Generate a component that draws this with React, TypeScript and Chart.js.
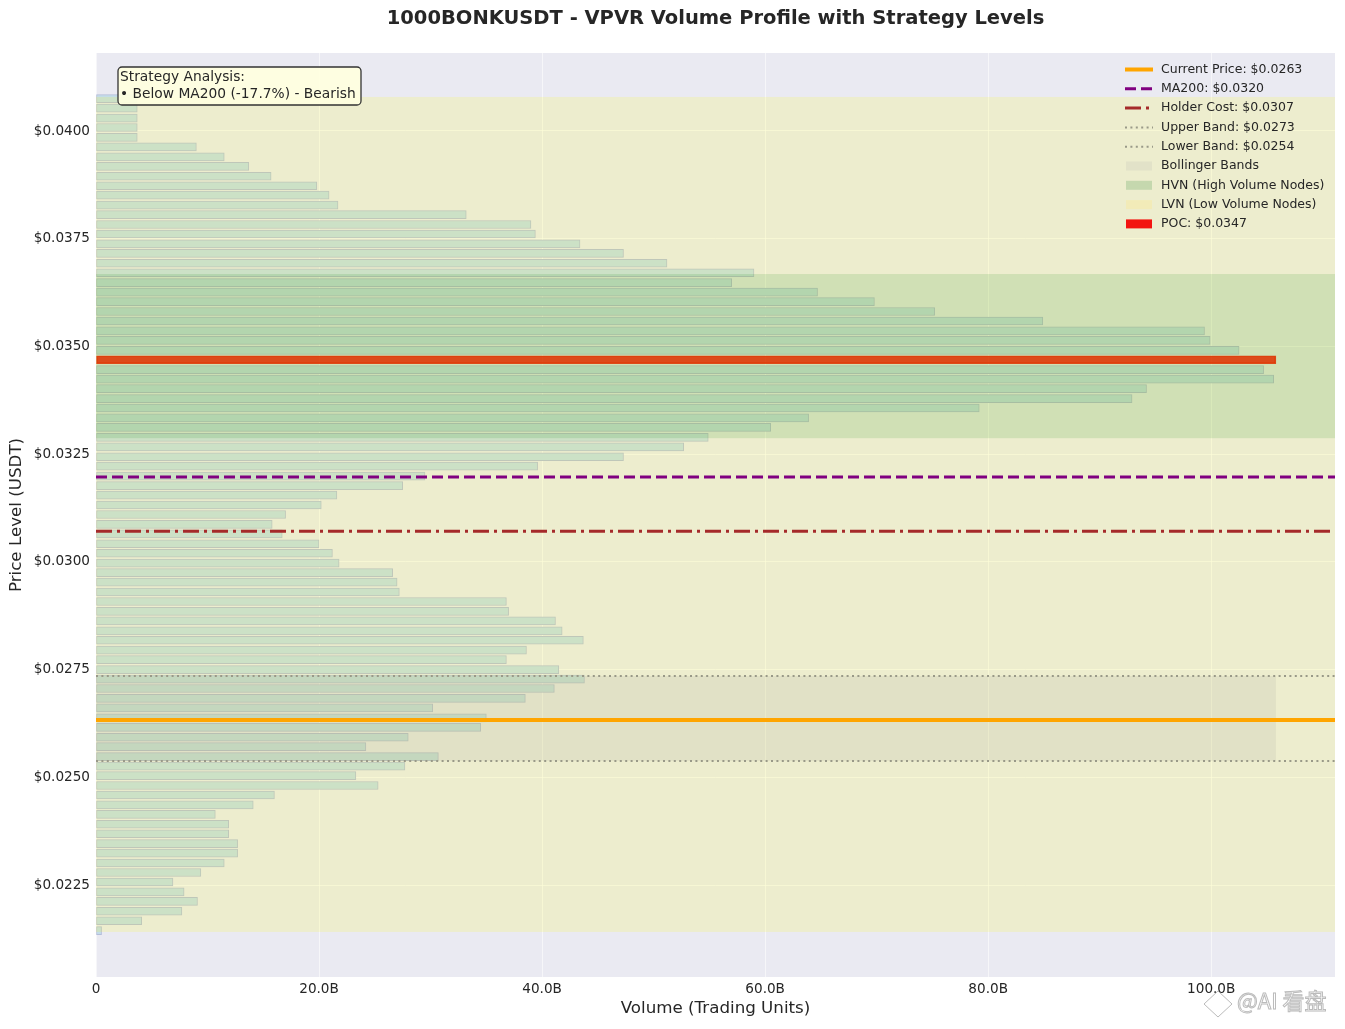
import React, { FC, useEffect, useRef } from "react";
import { Chart, registerables } from "chart.js";

Chart.register(...registerables);

// price bin centres, top to bottom
const prices = [
  0.04075, 0.04053, 0.0403, 0.04008, 0.03985, 0.03963, 0.0394, 0.03918, 0.03895, 0.03873,
  0.03851, 0.03828, 0.03806, 0.03783, 0.03761, 0.03738, 0.03716, 0.03693, 0.03671, 0.03648,
  0.03626, 0.03604, 0.03581, 0.03559, 0.03536, 0.03514, 0.03491, 0.03469, 0.03446, 0.03424,
  0.03402, 0.03379, 0.03357, 0.03334, 0.03312, 0.03289, 0.03267, 0.03244, 0.03222, 0.03199,
  0.03177, 0.03155, 0.03132, 0.0311, 0.03087, 0.03065, 0.03042, 0.0302, 0.02997, 0.02975,
  0.02953, 0.0293, 0.02908, 0.02885, 0.02863, 0.0284, 0.02818, 0.02795, 0.02773, 0.0275,
  0.02728, 0.02706, 0.02683, 0.02661, 0.02638, 0.02616, 0.02593, 0.02571, 0.02548, 0.02526,
  0.02504, 0.02481, 0.02459, 0.02436, 0.02414, 0.02391, 0.02369, 0.02346, 0.02324, 0.02301,
  0.02279, 0.02257, 0.02234, 0.02212, 0.02189, 0.02167, 0.02144,
];

// volume per bin, in billions
const volumes = [
  3.7, 3.7, 3.7, 3.7, 3.7, 9.0, 11.5, 13.7, 15.7, 19.8,
  20.9, 21.7, 33.2, 39.0, 39.4, 43.4, 47.3, 51.2, 59.0, 57.0,
  64.7, 69.8, 75.2, 84.9, 99.4, 99.9, 102.5, 105.8, 104.7, 105.6,
  94.2, 92.9, 79.2, 63.9, 60.5, 54.9, 52.7, 47.3, 39.6, 29.5,
  27.5, 21.6, 20.2, 17.0, 15.8, 16.7, 20.0, 21.2, 21.8, 26.6,
  27.0, 27.2, 36.8, 37.0, 41.2, 41.8, 43.7, 38.6, 36.8, 41.5,
  43.8, 41.1, 38.5, 30.2, 35.0, 34.5, 28.0, 24.2, 30.7, 27.7,
  23.3, 25.3, 16.0, 14.1, 10.7, 11.9, 11.9, 12.7, 12.7, 11.5,
  9.4, 6.9, 7.9, 9.1, 7.7, 4.1, 0.5,
];

const pocPrice = 0.03469;
const pocVolume = 105.8;
const xMax = 111.1;

const levelLabels = ["Current Price: $0.0263", "MA200: $0.0320", "Holder Cost: $0.0307", "Upper Band: $0.0273", "Lower Band: $0.0254"];
const levelValues = [0.02633, 0.03197, 0.03071, 0.02735, 0.02538];
const levelColors = ["#FFA500", "#800080", "#A52A2A", "#999988", "#999988"];
const levelWidths = [4, 3, 3, 2, 2];
const levelDashes = [[], [11, 5], [16, 5, 3, 5], [2, 3.4], [2, 3.4]];

const patchLabels = ["Bollinger Bands", "HVN (High Volume Nodes)", "LVN (Low Volume Nodes)", "POC: $0.0347"];
const patchColors = ["#E2E2C8", "#C5D8AE", "#F2EBB8", "#F31410"];

const lvnRange = [0.02141, 0.04079];
const hvnRange = [0.03287, 0.03668];
const bollingerRange = [0.02538, 0.02735];

const noteLines = ["Strategy Analysis:", "• Below MA200 (-17.7%) - Bearish"];

const FONT = '"DejaVu Sans", sans-serif';
const INK = "#262626";
const GRID = "rgba(255,255,255,0.55)";

// spans go over the volume bars, as in the original
const spansPlugin = {
  id: "spans",
  afterDatasetDraw(chart: any, args: any) {
    if (args.index !== 0) return;
    const { ctx, scales, chartArea } = chart;
    const band = (range: number[], color: string, right: number) => {
      const top = scales.y.getPixelForValue(range[1]);
      const bottom = scales.y.getPixelForValue(range[0]);
      ctx.fillStyle = color;
      ctx.fillRect(chartArea.left, top, right - chartArea.left, bottom - top);
    };
    ctx.save();
    band(lvnRange, "rgba(255,255,0,0.15)", chartArea.right);
    band(hvnRange, "rgba(0,128,0,0.12)", chartArea.right);
    band(bollingerRange, "rgba(128,128,128,0.1)", scales.x.getPixelForValue(pocVolume));
    ctx.restore();
  },
};

const overlayPlugin = {
  id: "overlay",
  afterDraw(chart: any) {
    const { ctx } = chart;
    ctx.save();

    // strategy note
    ctx.beginPath();
    ctx.roundRect(118, 67, 243, 38, 4);
    ctx.fillStyle = "rgba(255,255,224,0.92)";
    ctx.fill();
    ctx.lineWidth = 1.3;
    ctx.strokeStyle = "#333333";
    ctx.stroke();
    ctx.fillStyle = INK;
    ctx.font = `13.8px ${FONT}`;
    ctx.textBaseline = "middle";
    ctx.textAlign = "left";
    noteLines.forEach((line, i) => ctx.fillText(line, 120, 77 + i * 17));

    // legend
    ctx.font = `12.5px ${FONT}`;
    levelLabels.forEach((label, i) => {
      const y = 69.5 + i * 19.3;
      ctx.beginPath();
      ctx.setLineDash(levelDashes[i]);
      ctx.lineWidth = levelWidths[i];
      ctx.strokeStyle = levelColors[i];
      ctx.moveTo(1125, y);
      ctx.lineTo(1153, y);
      ctx.stroke();
      ctx.fillStyle = INK;
      ctx.fillText(label, 1161, y);
    });
    ctx.setLineDash([]);
    patchLabels.forEach((label, i) => {
      const y = 69.5 + (i + levelLabels.length) * 19.3;
      ctx.fillStyle = patchColors[i];
      ctx.fillRect(1126, y - 4.5, 26, 9);
      ctx.fillStyle = INK;
      ctx.fillText(label, 1161, y);
    });

    // watermark
    ctx.lineWidth = 1;
    ctx.strokeStyle = "rgba(170,170,170,0.8)";
    ctx.fillStyle = "rgba(255,255,255,0.7)";
    ctx.beginPath();
    ctx.moveTo(1218, 991);
    ctx.lineTo(1232, 1004);
    ctx.lineTo(1218, 1017);
    ctx.lineTo(1204, 1004);
    ctx.closePath();
    ctx.fill();
    ctx.stroke();
    ctx.font = `22px "Noto Sans CJK SC", ${FONT}`;
    ctx.fillText("@AI 看盘", 1237, 1001);
    ctx.strokeText("@AI 看盘", 1237, 1001);

    ctx.restore();
  },
};

const App: FC = () => {
  const canvasRef = useRef<HTMLCanvasElement>(null);

  useEffect(() => {
    if (!canvasRef.current) return;
    const levels = levelLabels.map((label, i) => ({
      type: "scatter" as const,
      label,
      data: [
        { x: 0, y: levelValues[i] },
        { x: xMax, y: levelValues[i] },
      ],
      showLine: true,
      pointRadius: 0,
      borderColor: levelColors[i],
      borderWidth: levelWidths[i],
      borderDash: levelDashes[i],
      order: i + 1,
    }));

    const chart = new Chart(canvasRef.current, {
      type: "bar",
      data: {
        datasets: [
          {
            type: "bar",
            label: "Volume",
            indexAxis: "y",
            data: prices.map((p, i) => ({ x: volumes[i], y: p })),
            barThickness: 8,
            backgroundColor: (c: any) => (prices[c.dataIndex] === pocPrice ? "rgba(255,0,0,0.85)" : "rgb(196,220,233)"),
            borderColor: (c: any) => (prices[c.dataIndex] === pocPrice ? "rgba(255,0,0,0.85)" : "rgb(180,190,218)"),
            borderWidth: 1,
            borderSkipped: false,
            order: 10,
          },
          ...levels,
        ] as any,
      },
      options: {
        responsive: false,
        animation: false,
        devicePixelRatio: 1,
        layout: { padding: { left: 0, right: 10, top: 0, bottom: 0 } },
        plugins: {
          legend: { display: false },
          tooltip: { enabled: false },
          title: {
            display: true,
            text: "1000BONKUSDT - VPVR Volume Profile with Strategy Levels",
            color: INK,
            fullSize: false,
            font: { family: FONT, size: 19.5, weight: "bold" },
            padding: { top: 7, bottom: 22.6 },
          },
        },
        scales: {
          x: {
            type: "linear",
            min: 0,
            max: xMax,
            offset: false,
            afterFit: (s: any) => {
              s.height = 52;
            },
            grid: { color: GRID, lineWidth: 1, drawTicks: false, offset: false },
            border: { display: false },
            ticks: {
              stepSize: 20,
              includeBounds: false,
              padding: 4,
              color: INK,
              font: { family: FONT, size: 13.6 },
              maxRotation: 0,
              callback: (v: any) => (v === 0 ? "0" : `${Number(v).toFixed(1)}B`),
            },
            title: {
              display: true,
              text: "Volume (Trading Units)",
              color: INK,
              font: { family: FONT, size: 16.7 },
              padding: 10,
            },
          },
          y: {
            type: "linear",
            min: 0.020365,
            max: 0.04181,
            offset: false,
            afterFit: (s: any) => {
              s.width = 96;
            },
            grid: { color: GRID, lineWidth: 1, drawTicks: false, offset: false },
            border: { display: false },
            ticks: {
              stepSize: 0.0025,
              includeBounds: false,
              padding: 6,
              color: INK,
              font: { family: FONT, size: 13.6 },
              callback: (v: any) => `$${Number(v).toFixed(4)}`,
            },
            title: {
              display: true,
              text: "Price Level (USDT)",
              color: INK,
              font: { family: FONT, size: 16.7 },
              padding: 7,
            },
          },
        },
      } as any,
      plugins: [
        {
          id: "plotBackground",
          beforeDraw(c: any) {
            const { ctx, chartArea } = c;
            ctx.save();
            ctx.fillStyle = "#FFFFFF";
            ctx.fillRect(0, 0, c.width, c.height);
            ctx.fillStyle = "#EAEAF2";
            ctx.fillRect(chartArea.left, chartArea.top, chartArea.width, chartArea.height);
            ctx.restore();
          },
        },
        spansPlugin,
        overlayPlugin,
      ],
    });

    return () => {
      chart.destroy();
    };
  }, []);

  return (
    <div style={{ position: "absolute", left: 0, top: 0, width: 1345, height: 1029 }}>
      <canvas ref={canvasRef} width={1345} height={1029} style={{ display: "block" }} />
    </div>
  );
};

export default App;
